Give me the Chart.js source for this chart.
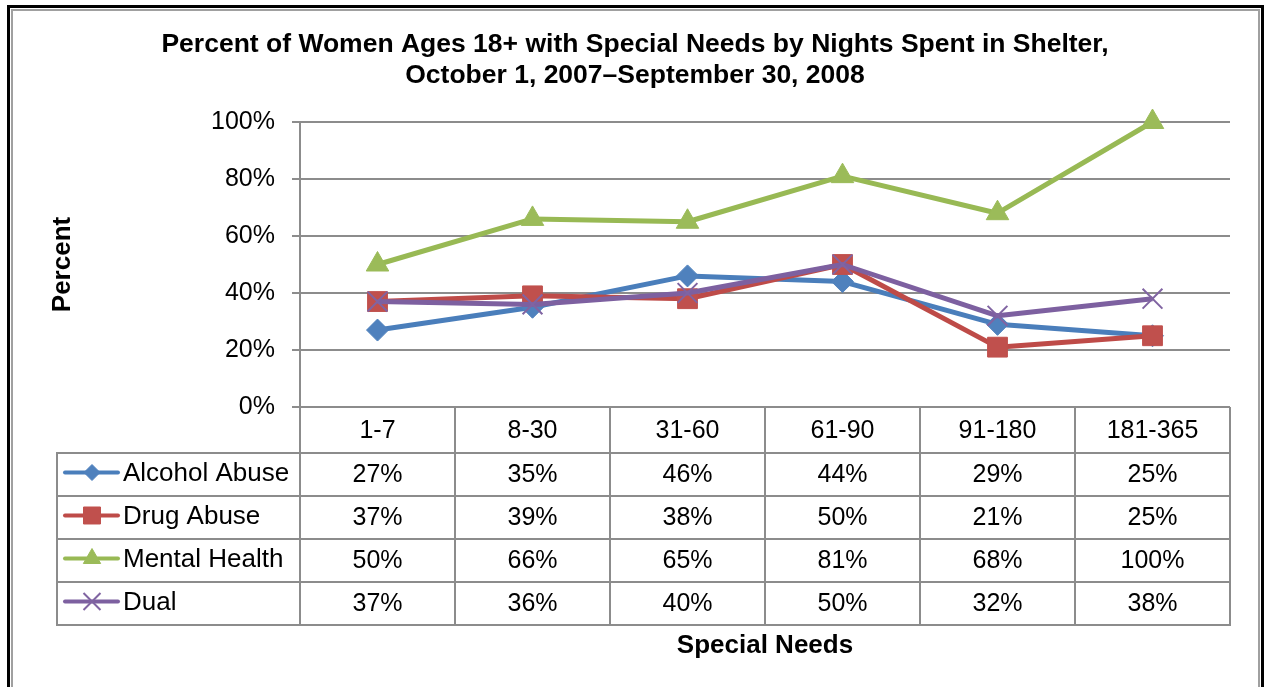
<!DOCTYPE html>
<html>
<head>
<meta charset="utf-8">
<title>Women with Special Needs by Nights Spent in Shelter</title>
<script src="https://cdn.jsdelivr.net/npm/chart.js@4/dist/chart.umd.min.js"></script>
<style>
  html, body { margin: 0; padding: 0; background: #ffffff; }
  #wrap { width: 1265px; height: 687px; }
</style>
</head>
<body>
<div id="wrap"><canvas id="shelterChart" width="1265" height="687"></canvas></div>
<script>
// --- Special needs by nights spent in shelter ---

const categories = ["1-7", "8-30", "31-60", "61-90", "91-180", "181-365"];

// Percent of women 18+ in each stay-length group
const alcoholAbuse = [27, 35, 46, 44, 29, 25];
const drugAbuse = [37, 39, 38, 50, 21, 25];
const mentalHealth = [50, 66, 65, 81, 68, 100];
const dual = [37, 36, 40, 50, 32, 38];

const seriesNames = ["Alcohol Abuse", "Drug Abuse", "Mental Health", "Dual"];

const titleLines = [
  "Percent of Women Ages 18+ with Special Needs by Nights Spent in Shelter,",
  "October 1, 2007\u2013September 30, 2008",
];
const yAxisTitle = "Percent";
const xAxisTitle = "Special Needs";

const FONT = "'Liberation Sans', Arial, Helvetica, sans-serif";
const GRID = "#8c8c8c";

// line colour, marker colour, marker shape, marker radius (plot / legend)
const seriesStyles = [
  { line: "#4A7EBB", fill: "#4F81BD", shape: "rectRot", r: 11, legendR: 8 },
  { line: "#BE4B48", fill: "#C0504D", shape: "rect", r: 14, legendR: 12 },
  { line: "#98B954", fill: "#9BBB59", shape: "triangle", r: 13, legendR: 10 },
  { line: "#7D60A0", fill: "#8064A2", shape: "crossRot", r: 14, legendR: 12 },
];

const seriesValues = [alcoholAbuse, drugAbuse, mentalHealth, dual];

const datasets = seriesValues.map((values, i) => {
  const s = seriesStyles[i];
  return {
    label: seriesNames[i],
    data: values,
    borderColor: s.line,
    backgroundColor: s.fill,
    borderWidth: 5,
    borderJoinStyle: "round",
    tension: 0,
    pointStyle: s.shape,
    pointRadius: s.r,
    pointHoverRadius: s.r,
    pointBackgroundColor: s.fill,
    pointBorderColor: s.fill,
    pointBorderWidth: s.shape === "crossRot" ? 2 : 1,
    clip: false,
    // later series sit on top, like the spreadsheet original
    order: seriesValues.length - 1 - i,
  };
});

// Frame, titles and the data table under the plot
const tableAndTitles = {
  id: "tableAndTitles",
  afterDraw(chart) {
    const ctx = chart.ctx;
    const area = chart.chartArea;
    const xs = chart.scales.x;
    const colW = xs.getPixelForValue(1) - xs.getPixelForValue(0);

    ctx.save();

    // double frame round the whole figure
    ctx.lineWidth = 3;
    ctx.strokeStyle = "#000000";
    ctx.strokeRect(8.5, 6.5, 1254, 700);
    ctx.lineWidth = 2;
    ctx.strokeStyle = "#a0a0a0";
    ctx.strokeRect(12, 10, 1247, 700);

    // title
    ctx.fillStyle = "#000000";
    ctx.textAlign = "center";
    ctx.textBaseline = "middle";
    ctx.font = "bold 26.5px " + FONT;
    ctx.fillText(titleLines[0], 635, 45);
    ctx.fillText(titleLines[1], 635, 76);

    // axis titles
    ctx.font = "bold 26px " + FONT;
    ctx.fillText(xAxisTitle, (area.left + area.right) / 2, 646);
    ctx.save();
    ctx.translate(63, (area.top + area.bottom) / 2);
    ctx.rotate(-Math.PI / 2);
    ctx.fillText(yAxisTitle, 0, 0);
    ctx.restore();

    // data table
    const headTop = area.bottom;
    const headBottom = headTop + 46;
    const rowH = 43;
    const tableBottom = headBottom + rowH * seriesNames.length;
    const legendLeft = 57;

    ctx.strokeStyle = GRID;
    ctx.lineWidth = 2;
    ctx.beginPath();
    for (let c = 0; c <= categories.length; c++) {
      const x = Math.round(area.left + c * colW);
      ctx.moveTo(x, headTop);
      ctx.lineTo(x, tableBottom);
    }
    ctx.moveTo(legendLeft, headBottom);
    ctx.lineTo(legendLeft, tableBottom);
    for (let r = 0; r <= seriesNames.length; r++) {
      const y = headBottom + r * rowH;
      ctx.moveTo(legendLeft - 1, y);
      ctx.lineTo(area.right + 1, y);
    }
    ctx.stroke();

    ctx.font = "25px " + FONT;
    ctx.fillStyle = "#000000";
    ctx.textAlign = "center";
    categories.forEach((cat, c) => {
      ctx.fillText(cat, xs.getPixelForValue(c), (headTop + headBottom) / 2 + 1);
    });

    seriesValues.forEach((values, r) => {
      const cy = headBottom + r * rowH + rowH / 2;
      const s = seriesStyles[r];

      // legend key: line with marker
      const ly = cy - 2;
      ctx.strokeStyle = s.line;
      ctx.lineWidth = 4;
      ctx.lineCap = "round";
      ctx.beginPath();
      ctx.moveTo(65, ly);
      ctx.lineTo(118, ly);
      ctx.stroke();
      ctx.lineCap = "butt";
      ctx.fillStyle = s.fill;
      ctx.strokeStyle = s.fill;
      ctx.lineWidth = s.shape === "crossRot" ? 2 : 1;
      Chart.helpers.drawPoint(ctx, {
        pointStyle: s.shape,
        radius: s.legendR,
        rotation: 0,
        borderWidth: ctx.lineWidth,
      }, 92, ly);

      ctx.fillStyle = "#000000";
      ctx.textAlign = "left";
      ctx.font = "26px " + FONT;
      ctx.fillText(seriesNames[r], 123, ly + 1);

      ctx.font = "25px " + FONT;
      ctx.textAlign = "center";
      values.forEach((v, c) => {
        ctx.fillText(v + "%", xs.getPixelForValue(c), cy + 1);
      });
    });

    ctx.restore();
  },
};

new Chart(document.getElementById("shelterChart"), {
  type: "line",
  data: { labels: categories, datasets: datasets },
  options: {
    responsive: false,
    animation: false,
    events: [],
    layout: { padding: { top: 122, bottom: 280, left: 0, right: 35 } },
    plugins: {
      legend: { display: false },
      title: { display: false },
      tooltip: { enabled: false },
    },
    scales: {
      x: {
        display: false,
        offset: true,
      },
      y: {
        min: 0,
        max: 100,
        afterFit(scale) {
          scale.width = 300;
        },
        ticks: {
          stepSize: 20,
          padding: 17,
          color: "#000000",
          font: { family: FONT, size: 25 },
          callback: (v) => v + "%",
        },
        grid: {
          color: GRID,
          lineWidth: 2,
          tickLength: 8,
        },
        border: { display: true, color: GRID, width: 2 },
      },
    },
  },
  plugins: [tableAndTitles],
});
</script>
</body>
</html>
